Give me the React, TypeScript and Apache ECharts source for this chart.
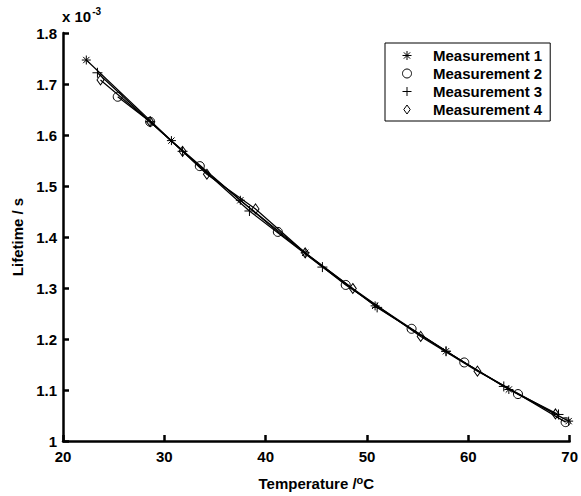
import React, { useEffect, useRef } from "react";
import * as echarts from "echarts";

const FONT = '"Liberation Sans", Arial, Helvetica, sans-serif';

const seriesNames = ["Measurement 1", "Measurement 2", "Measurement 3", "Measurement 4"];

// Temperature (°C) and lifetime (x 10^-3 s)
const temp1 = [22.3, 30.7, 37.5, 43.9, 50.8, 57.8, 64.0, 69.9];
const life1 = [1.747, 1.589, 1.472, 1.369, 1.265, 1.176, 1.101, 1.039];

const temp2 = [25.4, 28.6, 33.5, 41.2, 47.9, 54.4, 59.6, 64.9, 69.6];
const life2 = [1.675, 1.626, 1.539, 1.41, 1.306, 1.22, 1.154, 1.092, 1.037];

const temp3 = [23.4, 28.6, 31.8, 38.4, 45.6, 51.0, 57.8, 63.5, 68.9];
const life3 = [1.722, 1.626, 1.568, 1.451, 1.341, 1.262, 1.176, 1.107, 1.052];

const temp4 = [23.7, 28.6, 31.8, 34.2, 39.0, 43.9, 48.6, 55.3, 60.9, 68.6];
const life4 = [1.708, 1.626, 1.568, 1.523, 1.455, 1.369, 1.299, 1.205, 1.137, 1.053];

const xTicks = [20, 30, 40, 50, 60, 70];
const yTicks = [1, 1.1, 1.2, 1.3, 1.4, 1.5, 1.6, 1.7, 1.8];

const ASTERISK = "path://M5,0L5,10M0,5L10,5M1.5,1.5L8.5,8.5M1.5,8.5L8.5,1.5";
const PLUS = "path://M5,0L5,10M0,5L10,5";
const DIAMOND = "path://M5,0L10,7L5,14L0,7Z";
const symbols = [ASTERISK, "circle", PLUS, DIAMOND];
const symbolSizes: any[] = [9, 9, 10, [7, 10]];

const temps = [temp1, temp2, temp3, temp4];
const lifes = [life1, life2, life3, life4];

export default function App() {
  const ref = useRef<HTMLDivElement>(null);
  useEffect(() => {
    document.body.style.margin = "0";
    const chart = echarts.init(ref.current!, undefined, { renderer: "svg" });
    const markerStyle = { color: "rgba(0,0,0,0)", borderColor: "#000", borderWidth: 1 };
    const series = seriesNames.map((name, i) => ({
      name,
      type: "line",
      data: temps[i].map((t, j) => [t, lifes[i][j]]),
      symbol: symbols[i],
      symbolSize: symbolSizes[i],
      showAllSymbol: true,
      lineStyle: { color: "#000", width: 1.2 },
      itemStyle: markerStyle,
      emphasis: { disabled: true },
      z: 2,
    }));
    chart.setOption({
      animation: false,
      backgroundColor: "#fff",
      textStyle: { fontFamily: FONT },
      grid: { left: 63, top: 33, right: 10, bottom: 53, containLabel: false },
      xAxis: {
        type: "value",
        min: xTicks[0],
        max: xTicks[xTicks.length - 1],
        interval: 10,
        splitLine: { show: false },
        axisLine: { lineStyle: { color: "#000", width: 2.5 } },
        axisTick: { inside: true, length: 6, lineStyle: { color: "#000", width: 2.5 } },
        axisLabel: { color: "#000", fontWeight: "bold", fontSize: 15, fontFamily: FONT, margin: 8 },
        name: "Temperature /{sup|o}C",
        nameLocation: "middle",
        nameGap: 33,
        nameTextStyle: {
          color: "#000",
          fontWeight: "bold",
          fontSize: 15,
          fontFamily: FONT,
          rich: {
            sup: { fontSize: 11, fontWeight: "bold", color: "#000", fontFamily: FONT, verticalAlign: "top", padding: [0, 0, 8, 0] },
          },
        },
      },
      yAxis: {
        type: "value",
        min: yTicks[0],
        max: yTicks[yTicks.length - 1],
        interval: 0.1,
        splitLine: { show: false },
        axisLine: { show: true, lineStyle: { color: "#000", width: 2.5 } },
        axisTick: { show: true, inside: true, length: 6, lineStyle: { color: "#000", width: 2.5 } },
        axisLabel: {
          color: "#000",
          fontWeight: "bold",
          fontSize: 15,
          fontFamily: FONT,
          margin: 6,
          formatter: (v: number) => String(parseFloat(v.toFixed(1))),
        },
        name: "Lifetime / s",
        nameLocation: "middle",
        nameGap: 38,
        nameTextStyle: { color: "#000", fontWeight: "bold", fontSize: 15, fontFamily: FONT },
      },
      legend: {
        orient: "vertical",
        left: 385,
        top: 43,
        padding: [5, 8, 4, 17],
        itemGap: 3,
        itemWidth: 42,
        itemHeight: 9,
        borderColor: "#000",
        borderWidth: 1,
        backgroundColor: "#fff",
        selectedMode: false,
        textStyle: { color: "#000", fontWeight: "bold", fontSize: 15, fontFamily: FONT, lineHeight: 15 },
        data: seriesNames.map((name, i) => ({
          name,
          icon: symbols[i],
          itemStyle: markerStyle,
        })),
      },
      graphic: [
        {
          type: "text",
          left: 62,
          top: 6,
          style: {
            text: "x 10{sup|-3}",
            fill: "#000",
            font: `bold 15px ${FONT}`,
            rich: {
              sup: { fontSize: 10, fontWeight: "bold", fontFamily: FONT, fill: "#000", verticalAlign: "top", padding: [0, 0, 10, 1] },
            },
          },
        },
      ],
      series,
    });
    return () => chart.dispose();
  }, []);
  return <div ref={ref} style={{ width: 581, height: 496 }} />;
}
